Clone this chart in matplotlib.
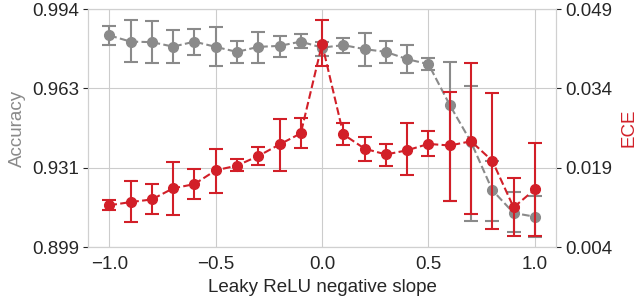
import numpy as np
import matplotlib.pyplot as plt
import seaborn as sns

sns.set_style("whitegrid")
plt.rcParams['font.family'] = ['Liberation Sans', 'DejaVu Sans']

# pendiente negativa de Leaky ReLU
slope = [-1.0, -0.9, -0.8, -0.7, -0.6, -0.5, -0.4, -0.3, -0.2, -0.1, 0.0,
         0.1, 0.2, 0.3, 0.4, 0.5, 0.6, 0.7, 0.8, 0.9, 1.0]

# Accuracy (media, limite superior, limite inferior)
acc = [0.9835, 0.9810, 0.9808, 0.9790, 0.9810, 0.9789, 0.9769, 0.9789, 0.9793, 0.9810, 0.9786,
       0.9796, 0.9780, 0.9769, 0.9740, 0.9720, 0.9557, 0.9409, 0.9217, 0.9126, 0.9111]
acc_hi = [0.9872, 0.9895, 0.9892, 0.9855, 0.9862, 0.9868, 0.9813, 0.9850, 0.9834, 0.9839, 0.9810,
          0.9824, 0.9845, 0.9813, 0.9796, 0.9746, 0.9727, 0.9634, 0.9335, 0.9209, 0.9195]
acc_lo = [0.9797, 0.9727, 0.9723, 0.9724, 0.9757, 0.9711, 0.9724, 0.9725, 0.9750, 0.9784, 0.9753,
          0.9766, 0.9713, 0.9724, 0.9684, 0.9696, 0.9173, 0.9093, 0.9095, 0.9051, 0.9030]

# ECE (media, limite superior, limite inferior)
ece = [0.0119, 0.0125, 0.0130, 0.0151, 0.0159, 0.0185, 0.0194, 0.0212, 0.0234, 0.0255, 0.0424,
       0.0253, 0.0226, 0.0215, 0.0223, 0.0235, 0.0232, 0.0240, 0.0203, 0.0115, 0.0149]
ece_hi = [0.0129, 0.0164, 0.0159, 0.0201, 0.0187, 0.0226, 0.0207, 0.0229, 0.0282, 0.0284, 0.0469,
          0.0275, 0.0249, 0.0234, 0.0274, 0.0259, 0.0334, 0.0388, 0.0331, 0.0171, 0.0236]
ece_lo = [0.0110, 0.0087, 0.0103, 0.0100, 0.0130, 0.0143, 0.0183, 0.0196, 0.0184, 0.0228, 0.0383,
          0.0232, 0.0203, 0.0194, 0.0176, 0.0212, 0.0127, 0.0102, 0.0075, 0.0061, 0.0061]

acc_ticks = [0.899, 0.931, 0.963, 0.994]
ece_ticks = [0.004, 0.019, 0.034, 0.049]

gris = '#8a8a8a'
rojo = '#d21f28'

acc = np.array(acc)
ece = np.array(ece)
acc_err = [acc - np.array(acc_lo), np.array(acc_hi) - acc]
ece_err = [ece - np.array(ece_lo), np.array(ece_hi) - ece]

fig, ax1 = plt.subplots(figsize=(6.4, 3.02), dpi=100)
fig.subplots_adjust(left=0.1375, right=0.869, bottom=0.182, top=0.970)

ax1.errorbar(slope, acc, yerr=acc_err, color=gris, marker='o', markersize=7,
             linestyle='--', linewidth=1.5, elinewidth=1.5, capsize=5, capthick=1.5)
ax1.set_ylim(acc_ticks[0], acc_ticks[-1])
ax1.set_yticks(np.linspace(acc_ticks[0], acc_ticks[-1], 4))
ax1.set_yticklabels([f'{t:.3f}' for t in acc_ticks])
ax1.set_xticks([-1.0, -0.5, 0.0, 0.5, 1.0])
ax1.set_xlabel('Leaky ReLU negative slope', fontsize=13.5, color='#262626')
ax1.set_ylabel('Accuracy', color=gris, fontsize=13.5)
ax1.tick_params(labelsize=13.5, colors='#262626', pad=3)
for s in ax1.spines.values():
    s.set_color('#d0d0d0')

ax2 = ax1.twinx()
ax2.errorbar(slope, ece, yerr=ece_err, color=rojo, marker='o', markersize=7,
             linestyle='--', linewidth=1.5, elinewidth=1.5, capsize=5, capthick=1.5)
ax2.set_ylim(ece_ticks[0], ece_ticks[-1])
ax2.set_yticks(ece_ticks)
ax2.set_yticklabels([f'{t:.3f}' for t in ece_ticks])
ax2.grid(False)
ax2.set_ylabel('ECE', color=rojo, fontsize=13.5, labelpad=6)
ax2.tick_params(labelsize=13.5, colors='#262626', pad=3)
for s in ax2.spines.values():
    s.set_color('#d0d0d0')

ax1.set_xlim(-1.1, 1.1)

plt.savefig('out.png', dpi=100)
